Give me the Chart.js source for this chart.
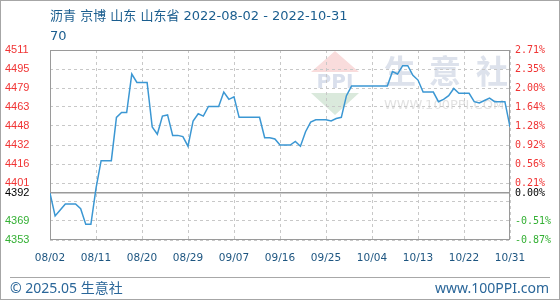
<!DOCTYPE html>
<html>
<head>
<meta charset="utf-8">
<script src="https://cdn.jsdelivr.net/npm/chart.js@4.4.0/dist/chart.umd.min.js"></script>
<style>
  body { margin: 0; background: #fff; }
  #wrap { position: relative; width: 560px; height: 300px; overflow: hidden; }
  #frame { position: absolute; left: 0; top: 0; width: 560px; height: 300px; box-sizing: border-box; border: 1px solid #a6a6a6; pointer-events: none; }
  #title { position: absolute; left: 50px; top: 6px; font: 13px/19.5px "DejaVu Sans", "Noto Sans CJK SC"; color: #1b5e8f; white-space: nowrap; }
  #footline { position: absolute; left: 10px; top: 277px; width: 540px; border-top: 1px solid #a8a8a8; }
  .foot { position: absolute; top: 279px; font: 14px/18px "Noto Sans", "Noto Sans CJK SC"; color: #2a6699; }
  canvas { position: absolute; left: 0; top: 0; }
</style>
</head>
<body>
<div id="wrap">
  <canvas id="grafico" width="560" height="300"></canvas>
  <div id="title">沥青 京博 山东 山东省 2022-08-02 - 2022-10-31<br>70</div>
  <div id="footline"></div>
  <div class="foot" style="left:10px">© 2025.05 生意社</div>
  <div class="foot" style="right:11px">www.100PPI.com</div>
  <div id="frame"></div>
</div>
<script>
// dados (um valor por dia, 08/02 a 10/31)
const dateLabels = ['08/02', '08/11', '08/20', '08/29', '09/07', '09/16', '09/25', '10/04', '10/13', '10/22', '10/31'];
const price = [
  4392, 4373, 4378, 4383, 4383, 4383, 4379, 4366, 4366, 4396,
  4419, 4419, 4419, 4455, 4459, 4459, 4491, 4484, 4484, 4484,
  4447, 4441, 4456, 4457, 4440, 4440, 4439, 4431, 4452, 4458,
  4456, 4464, 4464, 4464, 4476, 4470, 4472, 4455, 4455, 4455,
  4455, 4455, 4438, 4438, 4437, 4432, 4432, 4432, 4435, 4431,
  4443, 4451, 4453, 4453, 4453, 4452, 4454, 4455, 4473, 4481,
  4481, 4481, 4481, 4481, 4481, 4481, 4481, 4493, 4491, 4498,
  4498, 4490, 4486, 4476, 4476, 4476, 4468, 4470, 4473, 4479,
  4475, 4475, 4475, 4468, 4467, 4469, 4471, 4468, 4468, 4468,
  4447
];
const basePrice = 4392;
const tickValues = [4353, 4368.8, 4384.6, 4392, 4400.4, 4416.2, 4432, 4447.8, 4463.6, 4479.4, 4495.2, 4511];
const leftLabels = ['4353', '4369', '', '4392', '4401', '4416', '4432', '4448', '4463', '4479', '4495', '4511'];
const rightLabels = ['-0.87%', '-0.51%', '', '0.00%', '0.21%', '0.56%', '0.92%', '1.28%', '1.64%', '2.00%', '2.35%', '2.71%'];
const daysPerTick = 9;

function corTick(value) {
  if (value > basePrice) return '#f03434';
  if (value < basePrice) return '#34b034';
  return '#000000';
}

const decor = {
  id: 'decor',
  beforeDraw(chart) {
    const ctx = chart.ctx;
    ctx.save();
    // marca d'agua
    ctx.fillStyle = '#f9dcdc';
    ctx.beginPath(); ctx.moveTo(335, 51); ctx.lineTo(359, 72); ctx.lineTo(311, 72); ctx.closePath(); ctx.fill();
    ctx.fillStyle = '#dae9dc';
    ctx.beginPath(); ctx.moveTo(311, 93); ctx.lineTo(359, 93); ctx.lineTo(335, 115); ctx.closePath(); ctx.fill();
    ctx.fillStyle = '#d9dfec';
    ctx.font = 'bold 20px "DejaVu Sans"';
    ctx.textAlign = 'center';
    ctx.textBaseline = 'middle';
    ctx.fillText('PPI', 335, 83);
    ctx.fillStyle = '#dde2ec';
    ctx.font = 'bold 32px "Noto Sans CJK SC"';
    ctx.fillText('生', 400, 71);
    ctx.fillText('意', 445, 71);
    ctx.fillText('社', 492, 71);
    ctx.fillStyle = '#e2e2e2';
    ctx.font = '13px "DejaVu Sans"';
    ctx.fillText('WWW.100PPI.COM', 444, 106);
    ctx.restore();
  },
  beforeDatasetsDraw(chart) {
    const { ctx, chartArea } = chart;
    ctx.save();
    ctx.strokeStyle = '#9a9a9a';
    ctx.lineWidth = 1;
    ctx.strokeRect(chartArea.left + 0.5, chartArea.top + 0.5, chartArea.right - chartArea.left - 1, chartArea.bottom - chartArea.top - 1);
    ctx.restore();
  }
};

const pontos = price.map((v, i) => ({ x: i, y: v }));
const ctx = document.getElementById('grafico');
window.myChart = new Chart(ctx, {
  type: 'line',
  data: {
    datasets: [{
      data: pontos,
      borderColor: '#3b97d3',
      borderWidth: 1.5,
      pointRadius: 0,
      tension: 0,
      fill: false
    }]
  },
  options: {
    responsive: false,
    animation: false,
    layout: { padding: { left: 5, top: 50, right: 0, bottom: 0 } },
    plugins: { legend: { display: false }, tooltip: { enabled: false } },
    scales: {
      x: {
        type: 'linear',
        min: 0,
        max: price.length - 1,
        afterBuildTicks: (s) => { s.ticks = dateLabels.map((_, i) => ({ value: i * daysPerTick })); },
        afterFit: (s) => { s.height = 60; },
        grid: { color: '#c8c8c8', lineWidth: 1, drawTicks: false },
        border: { display: false, dash: [3, 3] },
        ticks: {
          autoSkip: false, maxRotation: 0, padding: 12,
          color: '#1d5580',
          font: { family: 'DejaVu Sans', size: 10.5 },
          callback: (v, i) => dateLabels[i]
        }
      },
      y: {
        position: 'left',
        min: tickValues[0],
        max: tickValues[tickValues.length - 1],
        afterBuildTicks: (s) => { s.ticks = tickValues.map((v) => ({ value: v })); },
        afterFit: (s) => { s.width = 45; },
        grid: {
          drawTicks: false, lineWidth: 1,
          color: (c) => (c.tick && c.tick.value === basePrice) ? 'rgba(0,0,0,0)' : '#c8c8c8'
        },
        border: { display: false, dash: [3, 3] },
        ticks: {
          crossAlign: 'far', padding: 0,
          font: { family: 'Liberation Sans', size: 11 },
          color: (c) => corTick(c.tick.value),
          callback: (v, i) => leftLabels[i]
        }
      },
      y2: {
        position: 'right',
        min: tickValues[0],
        max: tickValues[tickValues.length - 1],
        afterBuildTicks: (s) => { s.ticks = tickValues.map((v) => ({ value: v })); },
        afterFit: (s) => { s.width = 50; },
        grid: {
          drawTicks: false, lineWidth: 1.5,
          color: (c) => (c.tick && c.tick.value === basePrice) ? '#9a9a9a' : 'rgba(0,0,0,0)'
        },
        border: { display: false },
        ticks: {
          padding: 5,
          font: { family: 'DejaVu Sans Mono', size: 10 },
          color: (c) => corTick(c.tick.value),
          callback: (v, i) => rightLabels[i]
        }
      }
    }
  },
  plugins: [decor]
});
</script>
</body>
</html>
